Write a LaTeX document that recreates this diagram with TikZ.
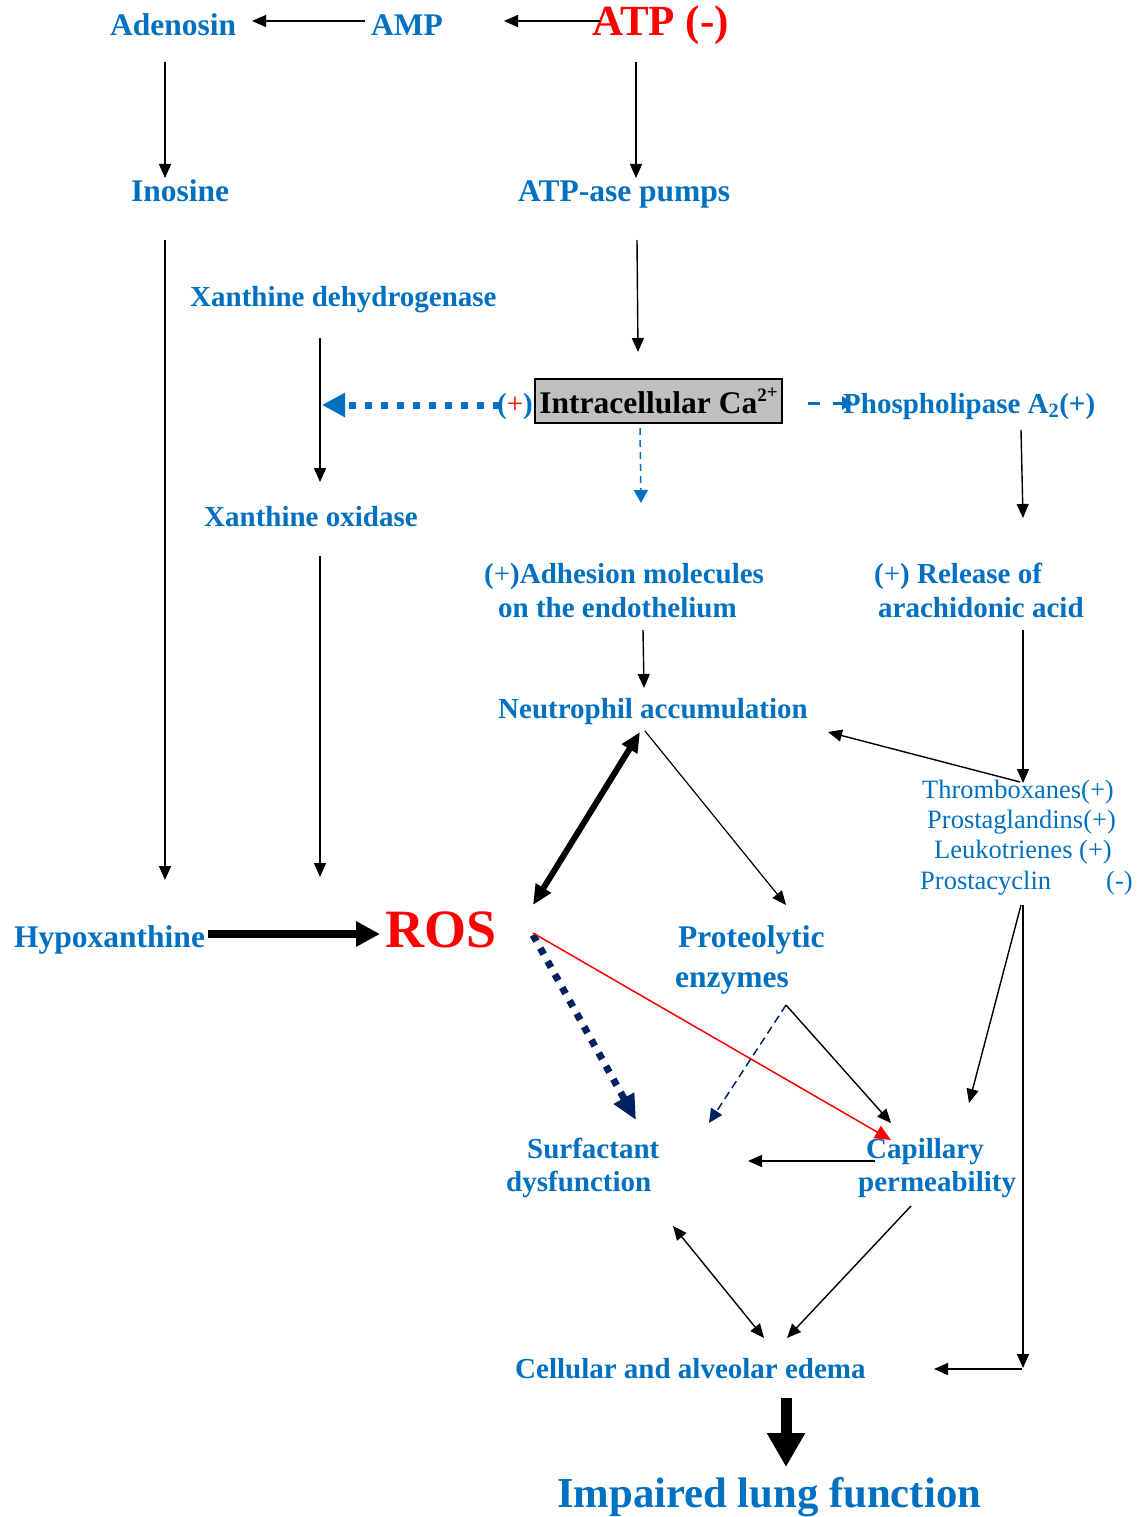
\documentclass[tikz,border=0pt]{standalone}
\usepackage{fontspec}
\setmainfont{Liberation Serif}
\usetikzlibrary{arrows.meta}
\definecolor{myblue}{RGB}{0,112,192}
\definecolor{mynavy}{RGB}{0,32,96}
\definecolor{myred}{RGB}{255,0,0}
\definecolor{boxgray}{RGB}{192,192,192}
\begin{document}
\begin{tikzpicture}[x=1pt,y=-1pt,
  lbl/.style={anchor=base west, inner sep=0pt, text=myblue, font=\bfseries\fontsize{29}{34}\selectfont},
  lblL/.style={anchor=base west, inner sep=0pt, text=myblue, font=\bfseries\fontsize{31.5}{36}\selectfont},
  lblR/.style={anchor=base west, inner sep=0pt, text=myblue, font=\fontsize{26.5}{31}\selectfont},
  arr/.style={line width=1.4pt, -{Triangle[length=14pt,width=12pt]}},
  darr/.style={line width=1.4pt, {Triangle[length=14pt,width=12pt]}-{Triangle[length=14pt,width=12pt]}},
  thickarr/.style={line width=8pt, -{Triangle[length=24pt,width=24pt]}},
  dblthick/.style={line width=6pt, {Triangle[length=20pt,width=17pt]}-{Triangle[length=20pt,width=17pt]}},
  bluedot/.style={myblue, line width=7pt, dash pattern=on 7pt off 9pt, -{Triangle[length=23pt,width=23pt]}},
  navydot/.style={mynavy, line width=7pt, dash pattern=on 7pt off 8pt, -{Triangle[length=25pt,width=22pt]}},
  bluedash/.style={myblue, line width=1.5pt, dash pattern=on 7pt off 5pt, -{Triangle[length=13pt,width=14pt]}},
  navydash/.style={mynavy, line width=1.5pt, dash pattern=on 8pt off 5pt, -{Triangle[length=14pt,width=13pt]}},
  redarr/.style={myred, line width=1.5pt, -{Triangle[length=16pt,width=14pt]}},
]
\useasboundingbox (0,0) rectangle (1141,1517);

% ---- texts ----
\node[lblL] (aden) at (110,36) {Adenosin};
\node[lblL] (amp) at (371,36) {AMP};
\node[anchor=base west, inner sep=0pt, text=myred, font=\bfseries\fontsize{43}{48}\selectfont] (atp) at (592,36) {ATP (-)};
\node[lblL] (ino) at (131,201) {Inosine};
\node[lblL] (atpase) at (518,201) {ATP-ase pumps};
\node[lbl] (xd) at (190,306) {Xanthine dehydrogenase};
\node[draw=black, line width=1.5pt, fill=boxgray, inner sep=0pt, minimum width=247pt, minimum height=44pt,
      font=\bfseries\fontsize{31.5}{36}\selectfont, text=black] (ca) at (658.5,401)
      {Intracellular Ca\raisebox{12pt}{\fontsize{19}{19}\selectfont 2}\raisebox{15pt}{\fontsize{19}{19}\selectfont +}};
\node[lbl] (plus) at (497,413) {(\textcolor{myred}{\mdseries +})};
\node[lbl] (pla) at (843,413) {Phospholipase A\textsubscript{2}(+)};
\node[lbl] (xo) at (204,526) {Xanthine oxidase};
\node[lbl] (adh1) at (484,583) {(\textmd{+})Adhesion molecules};
\node[lbl] (adh2) at (498,617) {on the endothelium};
\node[lbl] (rel1) at (874,583) {(\textmd{+}) Release of};
\node[lbl] (rel2) at (878,617) {arachidonic acid};
\node[lbl] (neut) at (498,718) {Neutrophil accumulation};
\node[lblR] (tx) at (922,798) {Thromboxanes(+)};
\node[lblR] (pg) at (927,828) {Prostaglandins(+)};
\node[lblR] (lt) at (934,858) {Leukotrienes (+)};
\node[lblR] (pc) at (920,889) {Prostacyclin};
\node[lblR] (pcm) at (1106,889) {(-)};
\node[lblL] (hypo) at (14,947) {Hypoxanthine};
\node[anchor=base west, inner sep=0pt, text=myred, font=\bfseries\fontsize{54}{60}\selectfont] (ros) at (385,947) {ROS};
\node[lblL] (prot1) at (678,947) {Proteolytic};
\node[lblL] (prot2) at (675,987) {enzymes};
\node[lbl] (surf1) at (527,1158) {Surfactant};
\node[lbl] (surf2) at (506,1191) {dysfunction};
\node[lbl] (cap1) at (866,1158) {Capillary};
\node[lbl] (cap2) at (858,1191) {permeability};
\node[lbl] (edema) at (515,1378) {Cellular and alveolar edema};
\node[anchor=base west, inner sep=0pt, text=myblue, font=\bfseries\fontsize{42.7}{48}\selectfont] (imp) at (557,1507) {Impaired lung function};

% ---- connector end points ----
\coordinate (ampW) at (365,21);   \coordinate (adenE) at (252,21);
\coordinate (atpW) at (600,21);   \coordinate (ampE) at (504,21);
\coordinate (atpS) at (636,62);   \coordinate (atpaseN) at (636,178);
\coordinate (adenS) at (165,62);  \coordinate (inoN) at (165,178);
\coordinate (atpaseS) at (637,240); \coordinate (caN) at (638,352);
\coordinate (inoS) at (165,240);  \coordinate (hypoN) at (165,880);
\coordinate (xdS) at (320,338);   \coordinate (xoN) at (320,482);
\coordinate (xoS) at (320,556);   \coordinate (rosNW) at (320,877);
\coordinate (caW) at (500,405);   \coordinate (xdArrow) at (322,405);
\coordinate (caS) at (640,428);   \coordinate (adhN) at (641,503);
\coordinate (caE) at (808,403);   \coordinate (plaW) at (853,403);
\coordinate (plaS) at (1021,430); \coordinate (relN) at (1023,518);
\coordinate (adhS) at (643,630);  \coordinate (neutN) at (644,688);
\coordinate (relS) at (1023,630); \coordinate (txN) at (1023,783);
\coordinate (txW) at (1020,782);  \coordinate (neutE) at (828,732);
\coordinate (neutSW) at (640,732); \coordinate (rosNE) at (533,905);
\coordinate (neutS) at (645,731); \coordinate (protN) at (786,905);
\coordinate (hypoE) at (208,934); \coordinate (rosW) at (380,934);
\coordinate (rosE1) at (533,935); \coordinate (surfN) at (636,1120);
\coordinate (rosE2) at (533,933); \coordinate (capNW) at (891,1140);
\coordinate (protS) at (786,1005); \coordinate (surfNE) at (709,1123);
\coordinate (capN) at (891,1123);
\coordinate (pcS1) at (1021,905); \coordinate (capNE) at (969,1103);
\coordinate (pcS2) at (1023,905); \coordinate (corner) at (1023,1368);
\coordinate (cornerW) at (1022,1369); \coordinate (edemaE) at (934,1369);
\coordinate (capW) at (875,1161); \coordinate (surfE) at (748,1161);
\coordinate (surfS) at (673,1226); \coordinate (edemaN1) at (764,1338);
\coordinate (capS) at (911,1206); \coordinate (edemaN2) at (787,1338);
\coordinate (edemaS) at (786,1398); \coordinate (impN) at (786,1467);

% ---- connectors ----
\draw[arr] (ampW) -- (adenE);
\draw[arr] (atpW) -- (ampE);
\draw[arr] (atpS) -- (atpaseN);
\draw[arr] (adenS) -- (inoN);
\draw[arr] (atpaseS) -- (caN);
\draw[arr] (inoS) -- (hypoN);
\draw[arr] (xdS) -- (xoN);
\draw[arr] (xoS) -- (rosNW);
\draw[bluedot] (caW) -- (xdArrow);
\draw[bluedash] (caS) -- (adhN);
\draw[myblue, line width=3pt, dash pattern=on 12pt off 13pt, -{Triangle[length=11pt,width=13pt]}] (caE) -- (plaW);
\draw[arr] (plaS) -- (relN);
\draw[arr] (adhS) -- (neutN);
\draw[arr] (relS) -- (txN);
\draw[arr] (txW) -- (neutE);
\draw[dblthick] (neutSW) -- (rosNE);
\draw[arr, line width=1.2pt] (neutS) -- (protN);
\draw[thickarr] (hypoE) -- (rosW);
\draw[navydot] (rosE1) -- (surfN);
\draw[redarr] (rosE2) -- (capNW);
\draw[navydash] (protS) -- (surfNE);
\draw[arr] (protS) -- (capN);
\draw[arr] (pcS1) -- (capNE);
\draw[arr] (pcS2) -- (corner);
\draw[arr] (cornerW) -- (edemaE);
\draw[arr] (capW) -- (surfE);
\draw[darr] (surfS) -- (edemaN1);
\draw[arr] (capS) -- (edemaN2);
\draw[line width=11pt, -{Triangle[length=34pt,width=36pt]}] (edemaS) -- (impN);
\end{tikzpicture}
\end{document}
